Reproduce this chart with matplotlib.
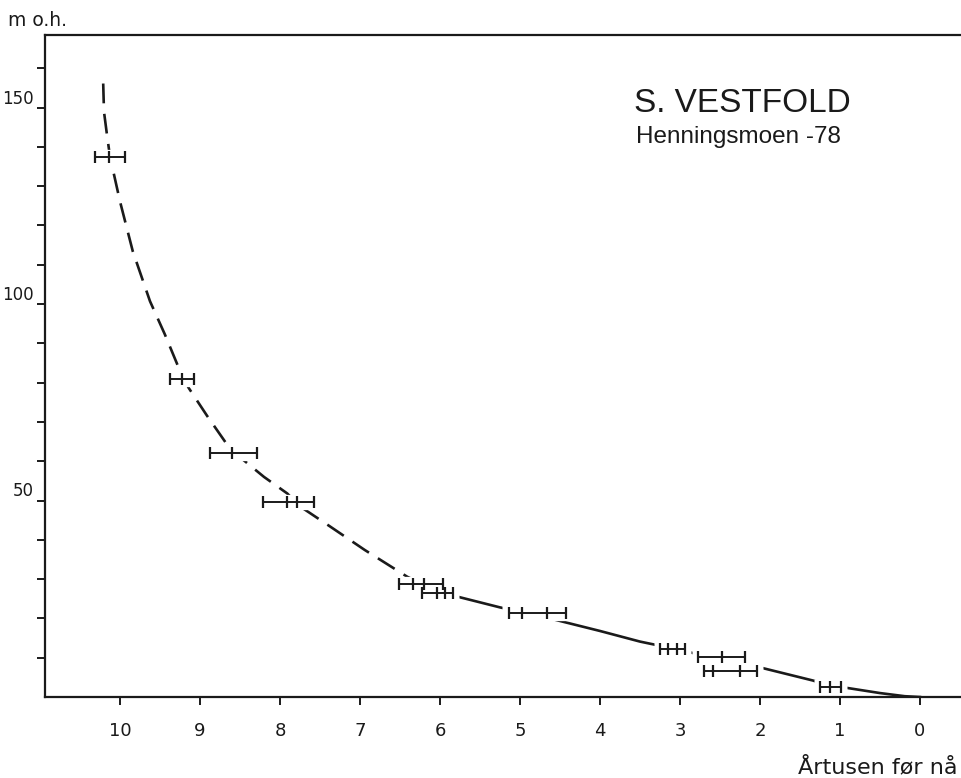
import matplotlib
matplotlib.use("Agg")
import matplotlib.pyplot as plt

# ---- data ----
# shoreline curve: age (thousand years BP) and elevation (m a.s.l.)
curve_age = [10.21, 10.2, 10.16, 10.125, 10.0, 9.84, 9.625, 9.44, 9.275, 9.2, 9.14,
             8.91, 8.65, 8.56, 8.475, 8.2, 7.91, 7.75, 7.375, 6.94, 6.41, 6.125, 6.0,
             5.775, 5.25, 4.91, 4.59, 4.0, 3.5, 3.1, 2.775, 2.375, 1.975, 1.34, 1.125,
             0.94, 0.5, 0.19, 0.0]
curve_elev = [156.1, 148.9, 142.6, 137.5, 126.1, 113.4, 100.7, 92.3, 84.2, 80.9, 78.6,
              71.5, 63.9, 62.4, 60.6, 56.0, 51.8, 48.5, 43.4, 37.4, 30.6, 27.8, 26.9,
              25.5, 22.8, 21.3, 19.8, 16.8, 14.1, 12.4, 10.9, 9.1, 7.4, 4.2, 2.8,
              2.4, 1.0, 0.2, 0.0]
dash_split = 6.0  # older than this: dashed; younger: solid

# dated samples: elevation, age range (old, young), interior tick ages
bar_elev = [137.5, 80.9, 62.1, 49.7, 28.8, 26.5, 21.5, 12.3, 10.1, 6.6, 2.6]
bar_old = [10.31, 9.375, 8.875, 8.21, 6.51, 6.225, 5.14, 3.25, 2.775, 2.7, 1.25]
bar_young = [9.94, 9.075, 8.29, 7.575, 5.96, 5.84, 4.425, 2.94, 2.19, 2.04, 0.99]
bar_ticks = [[10.14], [9.225], [8.6], [7.91, 7.79], [6.34, 6.2], [6.04, 5.94],
             [4.975, 4.66], [3.15, 3.04], [2.475], [2.59, 2.25], [1.125]]

x_ticks = [10, 9, 8, 7, 6, 5, 4, 3, 2, 1, 0]
y_ticks = list(range(10, 161, 10))
y_labeled = [50, 100, 150]

title = "S. VESTFOLD"
subtitle = "Henningsmoen -78"
xlabel = "Årtusen før nå"
ylabel = "m o.h."

# ---- figure ----
W, H = 962, 778
fig = plt.figure(figsize=(W / 100, H / 100), dpi=100)
left_px, right_px, top_px, bot_px = 45, 962, 35, 697
ax = fig.add_axes([left_px / W, 1 - bot_px / H, (right_px - left_px) / W, (bot_px - top_px) / H])

narrow = ["Liberation Sans Narrow", "DejaVu Sans"]
ink = "#1a1a1a"

ax.set_xlim((920 - left_px) / 80, (920 - right_px) / 80)
ax.set_ylim(0, (bot_px - top_px) / 3.93)

for s in ["left", "bottom", "top"]:
    ax.spines[s].set_linewidth(1.6)
    ax.spines[s].set_color(ink)
ax.spines["right"].set_visible(False)

# curve: dashed part and solid part
old_x = [a for a in curve_age if a >= dash_split]
old_y = [e for a, e in zip(curve_age, curve_elev) if a >= dash_split]
new_x = [a for a in curve_age if a <= dash_split]
new_y = [e for a, e in zip(curve_age, curve_elev) if a <= dash_split]
l1, = ax.plot(old_x, old_y, color=ink, lw=1.9, zorder=2, solid_capstyle="butt",
              solid_joinstyle="round")
l1.set_dashes([7.5, 4.0])
ax.plot(new_x, new_y, color=ink, lw=1.9, zorder=2, solid_joinstyle="round")

# sample bars with white gap underneath
for e, o, y_, tk in zip(bar_elev, bar_old, bar_young, bar_ticks):
    ax.plot([o + 0.08, y_ - 0.08], [e, e], color="white", lw=11, zorder=3, solid_capstyle="butt")
    ax.plot([o, y_], [e, e], color=ink, lw=1.4, zorder=4)
    ax.plot([o, y_] + tk, [e] * (2 + len(tk)), ls="none", marker="|", ms=9, mew=1.6,
            color=ink, zorder=4)

# ticks
ax.set_xticks(x_ticks)
ax.set_xticklabels([str(t) for t in x_ticks], family=narrow, fontsize=13, color=ink)
ax.tick_params(axis="x", direction="out", length=6, width=1.4, pad=12, colors=ink)
ax.set_yticks(y_ticks)
ax.set_yticklabels([str(t) if t in y_labeled else "" for t in y_ticks],
                   family=narrow, fontsize=12, color=ink)
for lab in ax.get_yticklabels():
    lab.set_verticalalignment("bottom")
ax.tick_params(axis="y", direction="out", length=6, width=1.4, pad=2, colors=ink)

# texts
fig.text(8 / W, 1 - 26 / H, ylabel, family=narrow, fontsize=13.5, color=ink, ha="left", va="baseline")
fig.text(958 / W, 1 - 773 / H, xlabel, family=narrow, fontsize=16, color=ink,
         ha="right", va="baseline")
ax.text(634 / W, 1 - 112 / H, title, transform=fig.transFigure, family=["Liberation Sans", "DejaVu Sans"],
        fontsize=24, color=ink, ha="left", va="baseline")
ax.text(636 / W, 1 - 143 / H, subtitle, transform=fig.transFigure,
        family=["Liberation Sans", "DejaVu Sans"], fontsize=17.5, color=ink, ha="left", va="baseline")

fig.savefig("out.png", dpi=100, facecolor="white")
